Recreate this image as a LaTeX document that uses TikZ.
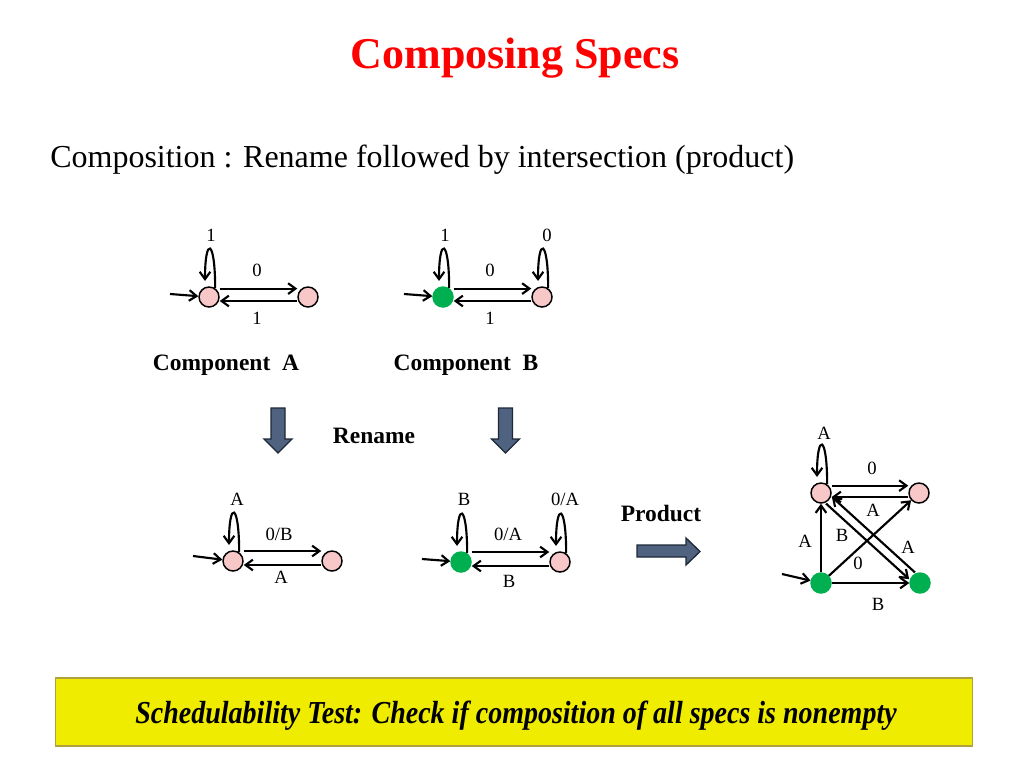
\documentclass[tikz,border=0pt]{standalone}
\usepackage{fontspec}
\usepackage{graphicx}
\setmainfont{Liberation Serif}
\usetikzlibrary{arrows.meta}

\definecolor{statepink}{RGB}{248,200,200}
\definecolor{stategreen}{RGB}{0,176,80}
\definecolor{titlered}{RGB}{255,0,0}
\definecolor{slateblue}{RGB}{79,98,128}
\definecolor{slatedark}{RGB}{30,40,55}
\definecolor{banneryellow}{RGB}{240,236,0}
\definecolor{bannerline}{RGB}{176,160,64}

\tikzset{
    state/.style={circle, draw, line width=1.1pt, fill=statepink, minimum size=15pt, inner sep=0pt},
    initstate/.style={state, draw=stategreen, fill=stategreen},
    trans/.style={-{Straight Barb[length=5.5pt,width=8pt]}, line width=1.6pt},
    lbl/.style={font=\fontsize{14}{16}\selectfont, inner sep=0pt},
    heading/.style={font=\fontsize{17.6}{20}\selectfont\bfseries, inner sep=0pt, anchor=base},
    blockarrow/.style={fill=slateblue, draw=slatedark, line width=1pt, line join=miter}
}

\begin{document}
\begin{tikzpicture}[x=0.75pt, y=-0.75pt]
    \useasboundingbox (0,0) rectangle (1024,768);

    \node (title) [anchor=base, font=\fontsize{33}{36}\selectfont\bfseries, text=titlered, inner sep=0pt] at (515,68) {Composing Specs};
    \node (intro) [anchor=base west, font=\fontsize{24}{28}\selectfont, inner sep=0pt] at (50,167) {Composition : Rename followed by intersection (product)};

    % states
    \node[state] (a1) at (209,297) {};
    \node[state] (a2) at (308,297) {};
    \node[initstate] (b1) at (443,297) {};
    \node[state] (b2) at (542,297) {};

    \node[state] (ra1) at (233,561) {};
    \node[state] (ra2) at (332,561) {};
    \node[initstate] (rb1) at (461,562) {};
    \node[state] (rb2) at (560,562) {};

    \node[state] (p1) at (821,493) {};
    \node[state] (p2) at (919,493) {};
    \node[initstate] (p3) at (821,583) {};
    \node[initstate] (p4) at (920,583) {};

    % entry points
    \coordinate (a0) at (170,294);
    \coordinate (b0) at (404,294);
    \coordinate (ra0) at (193,556);
    \coordinate (rb0) at (422,559);
    \coordinate (p0) at (782,574);

    \foreach \s/\t in {a0/a1, b0/b1, ra0/ra1, rb0/rb1, p0/p3}
        \draw[trans] (\s) -- (\t);

    \foreach \n in {a1, b1, b2, ra1, rb1, rb2, p1}
        \draw[trans] (\n.55) .. controls +(0,-50) and +(0,-45) .. ([xshift=-3pt,yshift=4pt]\n.north);

    \foreach \u/\v/\d in {a1/a2/6.3pt, b1/b2/6.3pt, ra1/ra2/7.5pt, rb1/rb2/7.5pt, p1/p2/5.5pt} {
        \draw[trans] ([yshift=\d]\u.east) -- ([yshift=\d]\v.west);
        \draw[trans] ([yshift=-3pt]\v.west) -- ([yshift=-3pt]\u.east);
    }

    \draw[trans] (p3) -- (p1);
    \draw[trans] (p3) -- (p4);
    \draw[trans] (p3) -- (p2);
    \draw[trans, transform canvas={xshift=-2.2pt, yshift=-2.5pt}] (p1) -- (p4);
    \draw[trans, transform canvas={xshift=2.2pt, yshift=2.5pt}] (p4) -- (p1);

    % labels
    \node[lbl] (la1) at (211,235) {1};
    \node[lbl] (la2) at (257,270) {0};
    \node[lbl] (la3) at (257,318) {1};
    \node[lbl] (lb1) at (445,235) {1};
    \node[lbl] (lb2) at (547,235) {0};
    \node[lbl] (lb3) at (490,270) {0};
    \node[lbl] (lb4) at (490,318) {1};

    \node[lbl] (lra1) at (237,499) {A};
    \node[lbl] (lra2) at (279,534) {0/B};
    \node[lbl] (lra3) at (281,577) {A};
    \node[lbl] (lrb1) at (464,499) {B};
    \node[lbl] (lrb2) at (565,499) {0/A};
    \node[lbl] (lrb3) at (508,534) {0/A};
    \node[lbl] (lrb4) at (509,581) {B};

    \node[lbl] (lp1) at (824,433) {A};
    \node[lbl] (lp2) at (872,468) {0};
    \node[lbl] (lp3) at (873,510) {A};
    \node[lbl] (lp4) at (842,535) {B};
    \node[lbl] (lp5) at (805,541) {A};
    \node[lbl] (lp6) at (908,547) {A};
    \node[lbl] (lp7) at (858,563) {0};
    \node[lbl] (lp8) at (878,604) {B};

    \node[heading] (capA) at (226,370) {Component~~A};
    \node[heading] (capB) at (466,370) {Component~~B};
    \node[heading] (rename) at (374,443) {Rename};
    \node[heading] (product) at (661,521) {Product};

    % block arrows
    \foreach \x in {271, 498.5}
        \draw[blockarrow] (\x,408) -- ++(14,0) -- ++(0,31) -- ++(7,0) -- ++(-14,14) -- ++(-14,-14) -- ++(7,0) -- cycle;
    \draw[blockarrow] (637,545) -- (686,545) -- (686,538) -- (700,551.5) -- (686,565) -- (686,557) -- (637,557) -- cycle;

    \node (banner) [draw=bannerline, fill=banneryellow, line width=1pt, minimum width=688pt, minimum height=51pt] at (514,712) {};
    \node (bannertext) [inner sep=0pt] at (516,716)
        {\resizebox{571pt}{\height}{\fontsize{24}{28}\selectfont\bfseries\itshape Schedulability Test: Check if composition of all specs is nonempty}};
\end{tikzpicture}
\end{document}
